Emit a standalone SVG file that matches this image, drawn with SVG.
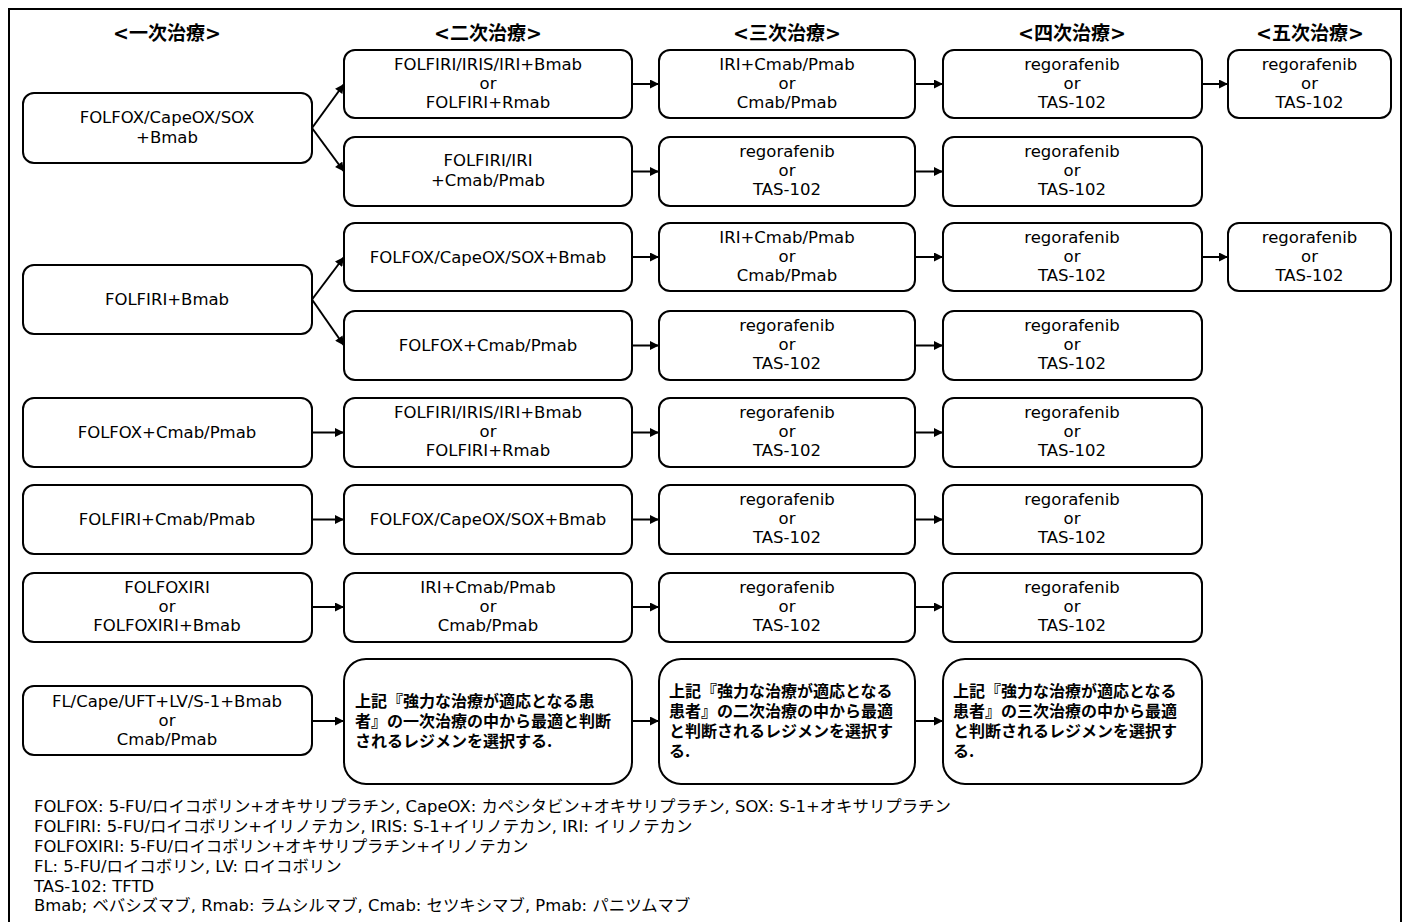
<svg xmlns="http://www.w3.org/2000/svg" width="1406" height="922" viewBox="0 0 1406 922">
<style>
.bx{fill:#fff;stroke:#000;stroke-width:2}
.t{font-family:"DejaVu Sans","Noto Sans CJK JP",sans-serif;font-size:16.5px;text-anchor:middle;fill:#000}
.h{font-family:"DejaVu Sans","Noto Sans CJK JP",sans-serif;font-size:19px;font-weight:bold;text-anchor:middle;fill:#000}
.jp{font-family:"Noto Sans CJK JP",sans-serif;font-size:16px;font-weight:bold;fill:#000}
.fn{font-family:"DejaVu Sans","Noto Sans CJK JP",sans-serif;font-size:16.4px;fill:#000}
.c{stroke:#000;stroke-width:2;fill:none;marker-end:url(#ah)}
</style>
<defs>
<marker id="ah" viewBox="0 0 10 10" refX="10" refY="5" markerWidth="10" markerHeight="9" markerUnits="userSpaceOnUse" orient="auto"><path d="M0,0 L10,5 L0,10 z" fill="#000"/></marker>
</defs>
<rect x="0" y="0" width="1406" height="922" fill="#fff"/>
<rect x="9" y="9" width="1392" height="940" fill="none" stroke="#000" stroke-width="2"/>
<g id="headers">
<text class="h" x="167" y="40">&lt;一次治療&gt;</text>
<text class="h" x="488" y="40">&lt;二次治療&gt;</text>
<text class="h" x="787" y="40">&lt;三次治療&gt;</text>
<text class="h" x="1072" y="40">&lt;四次治療&gt;</text>
<text class="h" x="1310" y="40">&lt;五次治療&gt;</text>
</g>
<g id="connectors">
<line class="c" x1="312" y1="128" x2="344" y2="84"/>
<line class="c" x1="312" y1="128" x2="344" y2="171.5"/>
<line class="c" x1="312" y1="299.5" x2="344" y2="257"/>
<line class="c" x1="312" y1="299.5" x2="344" y2="345.5"/>
<line class="c" x1="632" y1="84" x2="659" y2="84"/>
<line class="c" x1="915" y1="84" x2="943" y2="84"/>
<line class="c" x1="1202" y1="84" x2="1228" y2="84"/>
<line class="c" x1="632" y1="171.5" x2="659" y2="171.5"/>
<line class="c" x1="915" y1="171.5" x2="943" y2="171.5"/>
<line class="c" x1="632" y1="257" x2="659" y2="257"/>
<line class="c" x1="915" y1="257" x2="943" y2="257"/>
<line class="c" x1="1202" y1="257" x2="1228" y2="257"/>
<line class="c" x1="632" y1="345.5" x2="659" y2="345.5"/>
<line class="c" x1="915" y1="345.5" x2="943" y2="345.5"/>
<line class="c" x1="312" y1="432.5" x2="344" y2="432.5"/>
<line class="c" x1="632" y1="432.5" x2="659" y2="432.5"/>
<line class="c" x1="915" y1="432.5" x2="943" y2="432.5"/>
<line class="c" x1="312" y1="519.5" x2="344" y2="519.5"/>
<line class="c" x1="632" y1="519.5" x2="659" y2="519.5"/>
<line class="c" x1="915" y1="519.5" x2="943" y2="519.5"/>
<line class="c" x1="312" y1="607" x2="344" y2="607"/>
<line class="c" x1="632" y1="607" x2="659" y2="607"/>
<line class="c" x1="915" y1="607" x2="943" y2="607"/>
<line class="c" x1="312" y1="721" x2="344" y2="721"/>
<line class="c" x1="632" y1="721" x2="659" y2="721"/>
<line class="c" x1="915" y1="721" x2="943" y2="721"/>
</g>
<!-- column 1 -->
<g id="n1a"><rect class="bx" x="23" y="93" width="289" height="70" rx="11"/><text class="t" x="167" y="123">FOLFOX/CapeOX/SOX</text><text class="t" x="167" y="143">+Bmab</text></g>
<g id="n1b"><rect class="bx" x="23" y="265" width="289" height="69" rx="11"/><text class="t" x="167" y="305">FOLFIRI+Bmab</text></g>
<g id="n1c"><rect class="bx" x="23" y="398" width="289" height="69" rx="11"/><text class="t" x="167" y="438">FOLFOX+Cmab/Pmab</text></g>
<g id="n1d"><rect class="bx" x="23" y="485" width="289" height="69" rx="11"/><text class="t" x="167" y="525">FOLFIRI+Cmab/Pmab</text></g>
<g id="n1e"><rect class="bx" x="23" y="573" width="289" height="69" rx="11"/><text class="t" x="167" y="593">FOLFOXIRI</text><text class="t" x="167" y="612">or</text><text class="t" x="167" y="631">FOLFOXIRI+Bmab</text></g>
<g id="n1f"><rect class="bx" x="23" y="686" width="289" height="69" rx="11"/><text class="t" x="167" y="707">FL/Cape/UFT+LV/S-1+Bmab</text><text class="t" x="167" y="726">or</text><text class="t" x="167" y="745">Cmab/Pmab</text></g>
<!-- column 2 -->
<g id="n2r1"><rect class="bx" x="344" y="50" width="288" height="68" rx="11"/><text class="t" x="488" y="70">FOLFIRI/IRIS/IRI+Bmab</text><text class="t" x="488" y="89">or</text><text class="t" x="488" y="108">FOLFIRI+Rmab</text></g>
<g id="n2r2"><rect class="bx" x="344" y="137" width="288" height="69" rx="11"/><text class="t" x="488" y="166">FOLFIRI/IRI</text><text class="t" x="488" y="186">+Cmab/Pmab</text></g>
<g id="n2r3"><rect class="bx" x="344" y="223" width="288" height="68" rx="11"/><text class="t" x="488" y="263">FOLFOX/CapeOX/SOX+Bmab</text></g>
<g id="n2r4"><rect class="bx" x="344" y="311" width="288" height="69" rx="11"/><text class="t" x="488" y="351">FOLFOX+Cmab/Pmab</text></g>
<g id="n2r5"><rect class="bx" x="344" y="398" width="288" height="69" rx="11"/><text class="t" x="488" y="418">FOLFIRI/IRIS/IRI+Bmab</text><text class="t" x="488" y="437">or</text><text class="t" x="488" y="456">FOLFIRI+Rmab</text></g>
<g id="n2r6"><rect class="bx" x="344" y="485" width="288" height="69" rx="11"/><text class="t" x="488" y="525">FOLFOX/CapeOX/SOX+Bmab</text></g>
<g id="n2r7"><rect class="bx" x="344" y="573" width="288" height="69" rx="11"/><text class="t" x="488" y="593">IRI+Cmab/Pmab</text><text class="t" x="488" y="612">or</text><text class="t" x="488" y="631">Cmab/Pmab</text></g>
<g id="n2r8"><rect class="bx" x="344" y="659" width="288" height="125" rx="22"/><text class="jp" x="355" y="707">上記『強力な治療が適応となる患</text><text class="jp" x="355" y="727">者』の一次治療の中から最適と判断</text><text class="jp" x="355" y="747">されるレジメンを選択する.</text></g>
<!-- column 3 -->
<g id="n3r1"><rect class="bx" x="659" y="50" width="256" height="68" rx="11"/><text class="t" x="787" y="70">IRI+Cmab/Pmab</text><text class="t" x="787" y="89">or</text><text class="t" x="787" y="108">Cmab/Pmab</text></g>
<g id="n3r2"><rect class="bx" x="659" y="137" width="256" height="69" rx="11"/><text class="t" x="787" y="157">regorafenib</text><text class="t" x="787" y="176">or</text><text class="t" x="787" y="195">TAS-102</text></g>
<g id="n3r3"><rect class="bx" x="659" y="223" width="256" height="68" rx="11"/><text class="t" x="787" y="243">IRI+Cmab/Pmab</text><text class="t" x="787" y="262">or</text><text class="t" x="787" y="281">Cmab/Pmab</text></g>
<g id="n3r4"><rect class="bx" x="659" y="311" width="256" height="69" rx="11"/><text class="t" x="787" y="331">regorafenib</text><text class="t" x="787" y="350">or</text><text class="t" x="787" y="369">TAS-102</text></g>
<g id="n3r5"><rect class="bx" x="659" y="398" width="256" height="69" rx="11"/><text class="t" x="787" y="418">regorafenib</text><text class="t" x="787" y="437">or</text><text class="t" x="787" y="456">TAS-102</text></g>
<g id="n3r6"><rect class="bx" x="659" y="485" width="256" height="69" rx="11"/><text class="t" x="787" y="505">regorafenib</text><text class="t" x="787" y="524">or</text><text class="t" x="787" y="543">TAS-102</text></g>
<g id="n3r7"><rect class="bx" x="659" y="573" width="256" height="69" rx="11"/><text class="t" x="787" y="593">regorafenib</text><text class="t" x="787" y="612">or</text><text class="t" x="787" y="631">TAS-102</text></g>
<g id="n3r8"><rect class="bx" x="659" y="659" width="256" height="125" rx="22"/><text class="jp" x="669" y="697">上記『強力な治療が適応となる</text><text class="jp" x="669" y="717">患者』の二次治療の中から最適</text><text class="jp" x="669" y="737">と判断されるレジメンを選択す</text><text class="jp" x="669" y="757">る.</text></g>
<!-- column 4 -->
<g id="n4r1"><rect class="bx" x="943" y="50" width="259" height="68" rx="11"/><text class="t" x="1072" y="70">regorafenib</text><text class="t" x="1072" y="89">or</text><text class="t" x="1072" y="108">TAS-102</text></g>
<g id="n4r2"><rect class="bx" x="943" y="137" width="259" height="69" rx="11"/><text class="t" x="1072" y="157">regorafenib</text><text class="t" x="1072" y="176">or</text><text class="t" x="1072" y="195">TAS-102</text></g>
<g id="n4r3"><rect class="bx" x="943" y="223" width="259" height="68" rx="11"/><text class="t" x="1072" y="243">regorafenib</text><text class="t" x="1072" y="262">or</text><text class="t" x="1072" y="281">TAS-102</text></g>
<g id="n4r4"><rect class="bx" x="943" y="311" width="259" height="69" rx="11"/><text class="t" x="1072" y="331">regorafenib</text><text class="t" x="1072" y="350">or</text><text class="t" x="1072" y="369">TAS-102</text></g>
<g id="n4r5"><rect class="bx" x="943" y="398" width="259" height="69" rx="11"/><text class="t" x="1072" y="418">regorafenib</text><text class="t" x="1072" y="437">or</text><text class="t" x="1072" y="456">TAS-102</text></g>
<g id="n4r6"><rect class="bx" x="943" y="485" width="259" height="69" rx="11"/><text class="t" x="1072" y="505">regorafenib</text><text class="t" x="1072" y="524">or</text><text class="t" x="1072" y="543">TAS-102</text></g>
<g id="n4r7"><rect class="bx" x="943" y="573" width="259" height="69" rx="11"/><text class="t" x="1072" y="593">regorafenib</text><text class="t" x="1072" y="612">or</text><text class="t" x="1072" y="631">TAS-102</text></g>
<g id="n4r8"><rect class="bx" x="943" y="659" width="259" height="125" rx="22"/><text class="jp" x="953" y="697">上記『強力な治療が適応となる</text><text class="jp" x="953" y="717">患者』の三次治療の中から最適</text><text class="jp" x="953" y="737">と判断されるレジメンを選択す</text><text class="jp" x="953" y="757">る.</text></g>
<!-- column 5 -->
<g id="n5r1"><rect class="bx" x="1228" y="50" width="163" height="68" rx="11"/><text class="t" x="1309.5" y="70">regorafenib</text><text class="t" x="1309.5" y="89">or</text><text class="t" x="1309.5" y="108">TAS-102</text></g>
<g id="n5r3"><rect class="bx" x="1228" y="223" width="163" height="68" rx="11"/><text class="t" x="1309.5" y="243">regorafenib</text><text class="t" x="1309.5" y="262">or</text><text class="t" x="1309.5" y="281">TAS-102</text></g>
<g id="footnotes">
<text class="fn" x="34" y="812">FOLFOX: 5-FU/ロイコボリン+オキサリプラチン, CapeOX: カペシタビン+オキサリプラチン, SOX: S-1+オキサリプラチン</text>
<text class="fn" x="34" y="832">FOLFIRI: 5-FU/ロイコボリン+イリノテカン, IRIS: S-1+イリノテカン, IRI: イリノテカン</text>
<text class="fn" x="34" y="852">FOLFOXIRI: 5-FU/ロイコボリン+オキサリプラチン+イリノテカン</text>
<text class="fn" x="34" y="872">FL: 5-FU/ロイコボリン, LV: ロイコボリン</text>
<text class="fn" x="34" y="892">TAS-102: TFTD</text>
<text class="fn" x="34" y="911">Bmab; ベバシズマブ, Rmab: ラムシルマブ, Cmab: セツキシマブ, Pmab: パニツムマブ</text>
</g>
</svg>
